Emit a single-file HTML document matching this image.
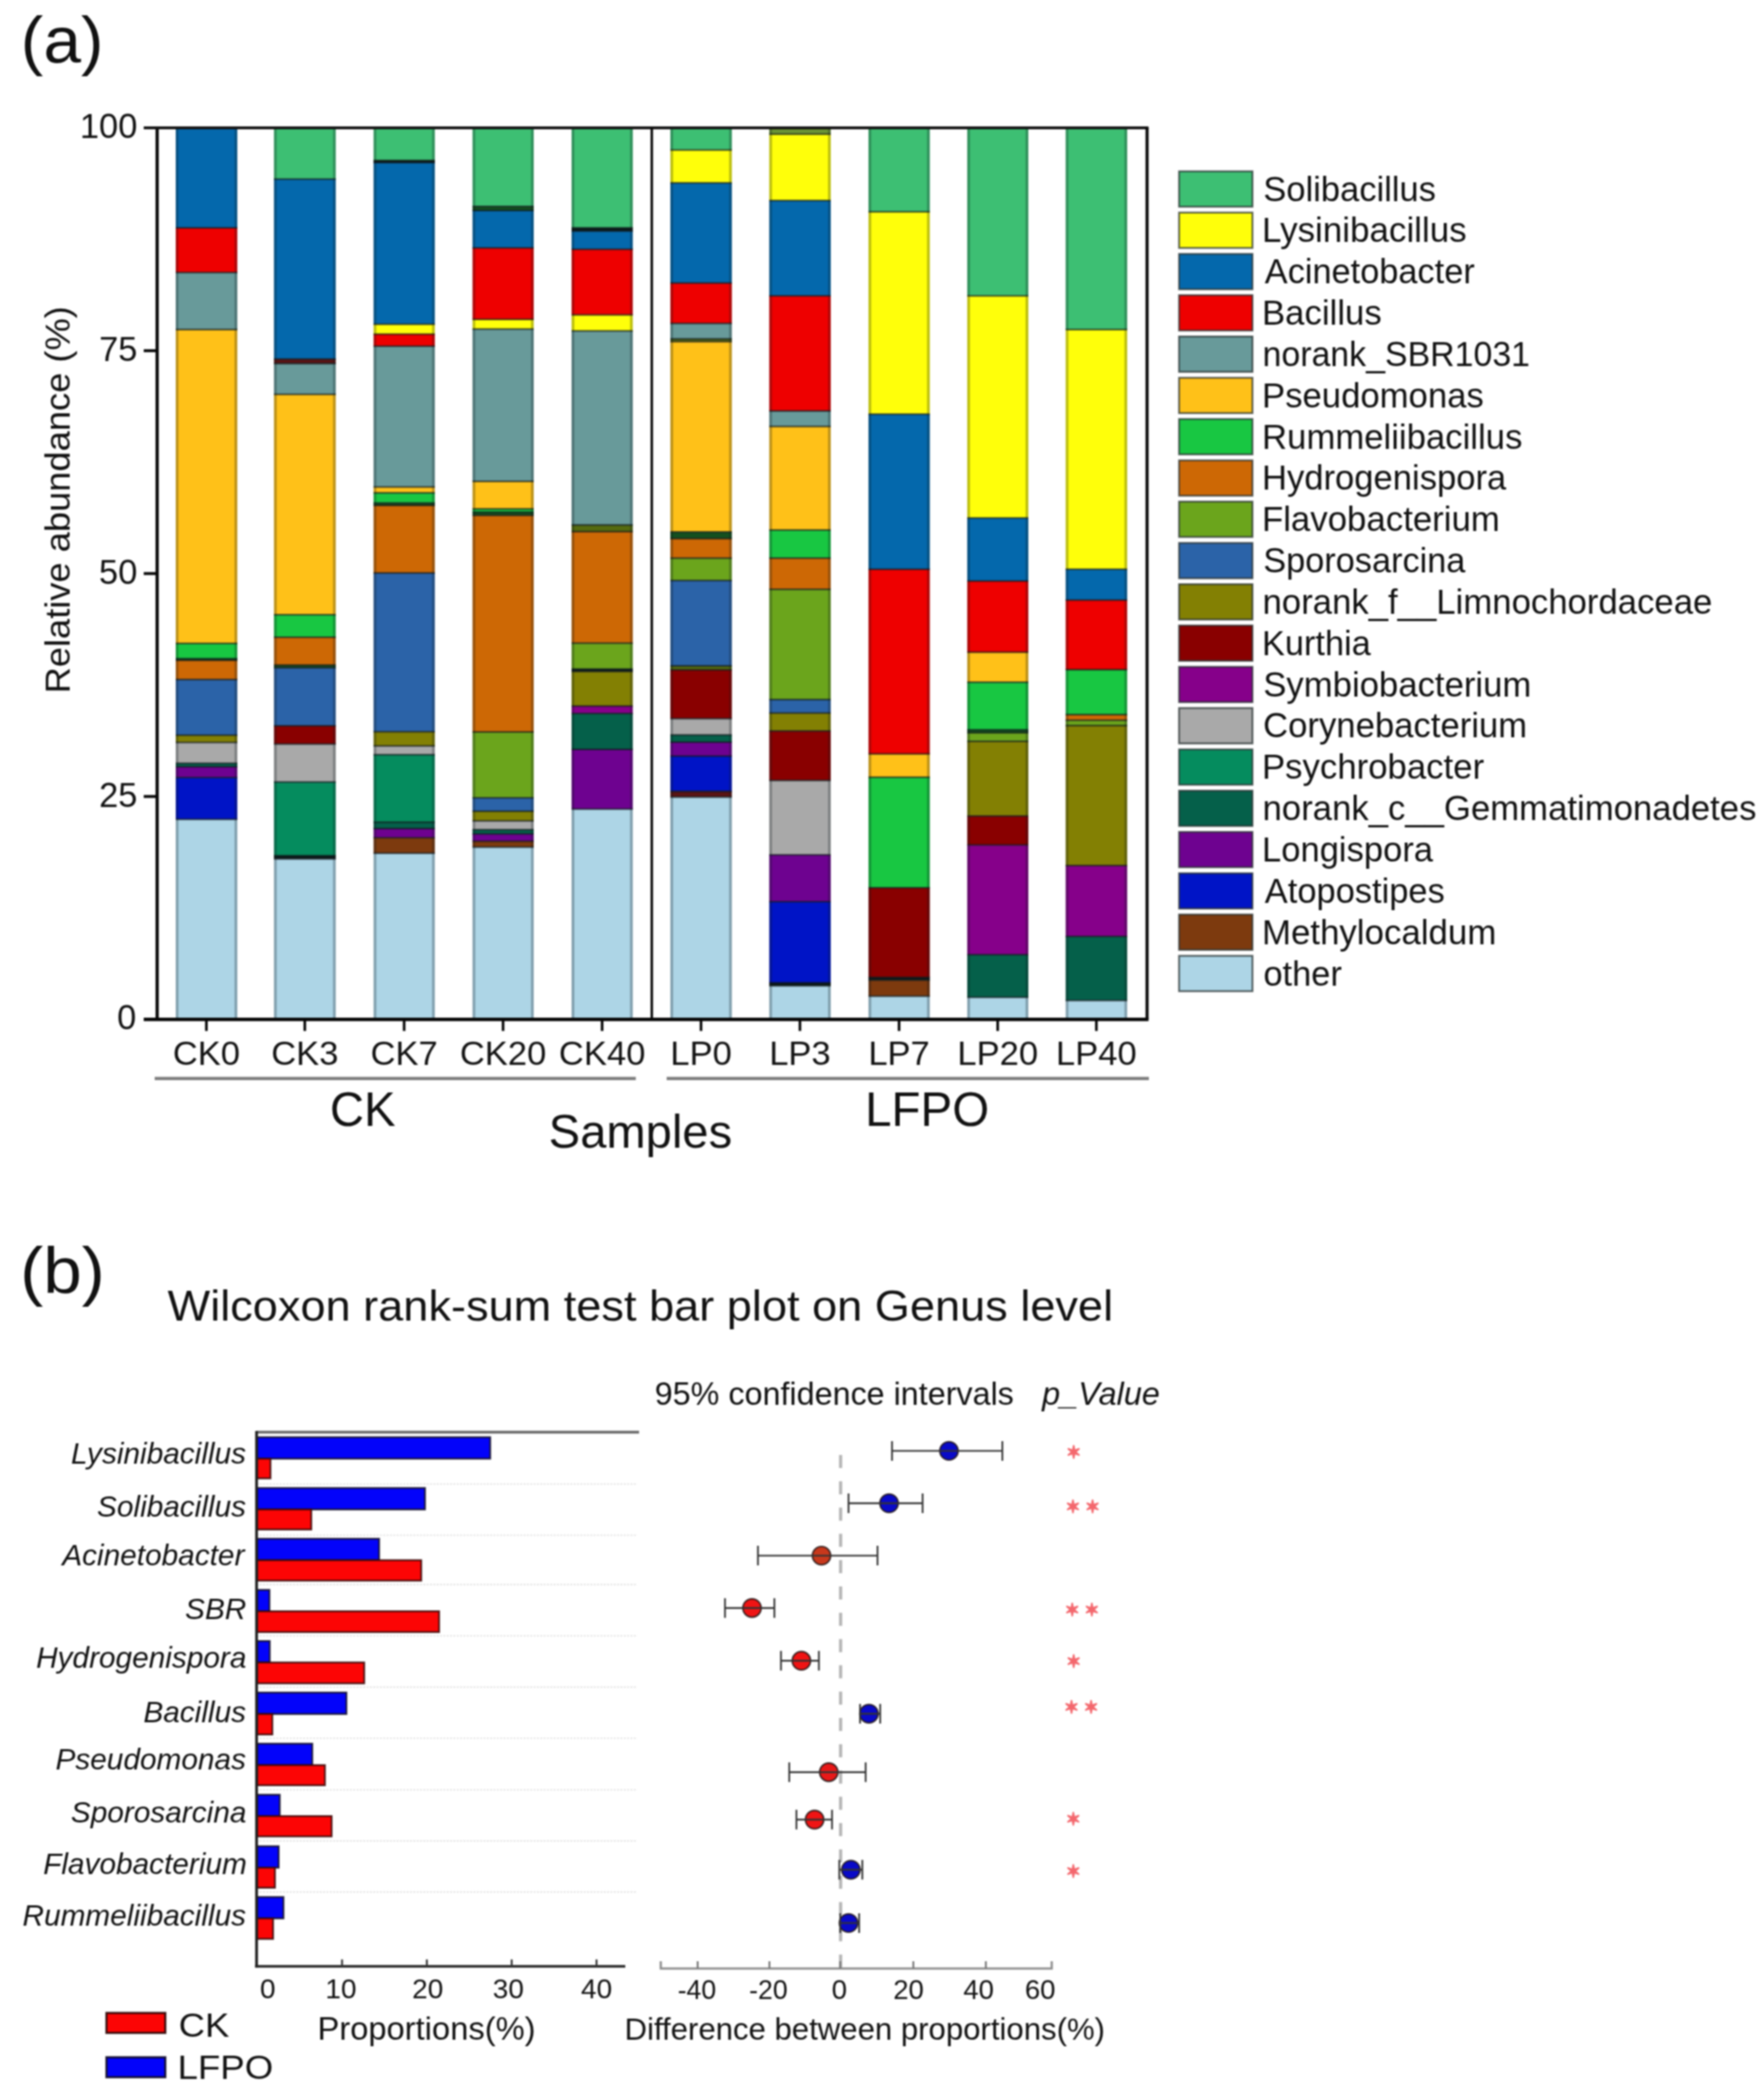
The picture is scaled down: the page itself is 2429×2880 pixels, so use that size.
<!DOCTYPE html>
<html lang="en">
<head>
<meta charset="utf-8">
<title>Figure: relative abundance and Wilcoxon rank-sum test</title>
<style>
html,body{margin:0;padding:0;background:#fff;}
body{width:2429px;height:2880px;overflow:hidden;}
svg{display:block;}
text{white-space:pre;}
</style>
</head>
<body>
<svg width="2429" height="2880" viewBox="0 0 2429 2880" font-family="'Liberation Sans', sans-serif">
<rect width="2429" height="2880" fill="#fff"/>
<defs><filter id="soft" x="0" y="0" width="100%" height="100%" filterUnits="userSpaceOnUse" color-interpolation-filters="sRGB"><feGaussianBlur stdDeviation="0.8"/></filter></defs>
<g filter="url(#soft)">
<rect width="2429" height="2880" fill="#fff"/>
<g id="panelA">
<text x="28.6" y="85.7" font-size="88.5" textLength="113.9" lengthAdjust="spacingAndGlyphs" fill="#111">(a)</text>
<g>
<rect x="242.0" y="177.0" width="84.7" height="137.0" fill="#0468ac"/>
<rect x="242.0" y="313.7" width="84.7" height="61.8" fill="#ee0000"/>
<rect x="242.0" y="375.2" width="84.7" height="78.8" fill="#689a9a"/>
<rect x="242.0" y="453.7" width="84.7" height="432.3" fill="#ffc118"/>
<rect x="242.0" y="885.8" width="84.7" height="21.3" fill="#18c742"/>
<rect x="242.0" y="906.8" width="84.7" height="2.5" fill="#14501f"/>
<rect x="242.0" y="909.0" width="84.7" height="26.8" fill="#cd6805"/>
<rect x="242.0" y="935.5" width="84.7" height="76.9" fill="#2b63a8"/>
<rect x="242.0" y="1012.1" width="84.7" height="10.2" fill="#838003"/>
<rect x="242.0" y="1022.1" width="84.7" height="29.0" fill="#a9a9a9"/>
<rect x="242.0" y="1050.8" width="84.7" height="5.1" fill="#05604a"/>
<rect x="242.0" y="1055.6" width="84.7" height="15.0" fill="#6e0290"/>
<rect x="242.0" y="1070.4" width="84.7" height="57.8" fill="#0014c6"/>
<rect x="242.0" y="1127.9" width="84.7" height="274.4" fill="#add5e6"/>
<rect x="377.3" y="177.0" width="85.0" height="69.9" fill="#3dbf73"/>
<rect x="377.3" y="246.6" width="85.0" height="247.9" fill="#0468ac"/>
<rect x="377.3" y="494.3" width="85.0" height="6.6" fill="#5a1414"/>
<rect x="377.3" y="500.5" width="85.0" height="42.7" fill="#689a9a"/>
<rect x="377.3" y="542.9" width="85.0" height="303.7" fill="#ffc118"/>
<rect x="377.3" y="846.3" width="85.0" height="31.3" fill="#18c742"/>
<rect x="377.3" y="877.3" width="85.0" height="38.6" fill="#cd6805"/>
<rect x="377.3" y="915.6" width="85.0" height="4.0" fill="#14501f"/>
<rect x="377.3" y="919.3" width="85.0" height="80.3" fill="#2b63a8"/>
<rect x="377.3" y="999.2" width="85.0" height="25.4" fill="#890000"/>
<rect x="377.3" y="1024.3" width="85.0" height="52.6" fill="#a9a9a9"/>
<rect x="377.3" y="1076.6" width="85.0" height="101.6" fill="#058c5e"/>
<rect x="377.3" y="1178.0" width="85.0" height="4.7" fill="#0a1a1a"/>
<rect x="377.3" y="1182.4" width="85.0" height="219.9" fill="#add5e6"/>
<rect x="514.5" y="177.0" width="84.2" height="44.2" fill="#3dbf73"/>
<rect x="514.5" y="220.9" width="84.2" height="3.2" fill="#0a1a1a"/>
<rect x="514.5" y="223.8" width="84.2" height="222.9" fill="#0468ac"/>
<rect x="514.5" y="446.4" width="84.2" height="13.9" fill="#ffff0a"/>
<rect x="514.5" y="460.0" width="84.2" height="16.9" fill="#ee0000"/>
<rect x="514.5" y="476.6" width="84.2" height="194.1" fill="#689a9a"/>
<rect x="514.5" y="670.4" width="84.2" height="8.4" fill="#ffc118"/>
<rect x="514.5" y="678.5" width="84.2" height="14.3" fill="#18c742"/>
<rect x="514.5" y="692.5" width="84.2" height="3.6" fill="#14501f"/>
<rect x="514.5" y="695.8" width="84.2" height="93.3" fill="#cd6805"/>
<rect x="514.5" y="788.8" width="84.2" height="218.8" fill="#2b63a8"/>
<rect x="514.5" y="1007.4" width="84.2" height="19.8" fill="#838003"/>
<rect x="514.5" y="1026.9" width="84.2" height="12.5" fill="#a9a9a9"/>
<rect x="514.5" y="1039.0" width="84.2" height="93.2" fill="#058c5e"/>
<rect x="514.5" y="1131.9" width="84.2" height="9.1" fill="#05604a"/>
<rect x="514.5" y="1140.7" width="84.2" height="12.8" fill="#6e0290"/>
<rect x="514.5" y="1153.3" width="84.2" height="21.7" fill="#7d3a0e"/>
<rect x="514.5" y="1174.6" width="84.2" height="227.7" fill="#add5e6"/>
<rect x="650.7" y="177.0" width="84.2" height="107.5" fill="#3dbf73"/>
<rect x="650.7" y="284.2" width="84.2" height="5.8" fill="#14501f"/>
<rect x="650.7" y="289.8" width="84.2" height="51.9" fill="#0468ac"/>
<rect x="650.7" y="341.3" width="84.2" height="98.7" fill="#ee0000"/>
<rect x="650.7" y="439.7" width="84.2" height="13.6" fill="#ffff0a"/>
<rect x="650.7" y="453.0" width="84.2" height="210.0" fill="#689a9a"/>
<rect x="650.7" y="662.7" width="84.2" height="38.3" fill="#ffc118"/>
<rect x="650.7" y="700.6" width="84.2" height="4.7" fill="#18c742"/>
<rect x="650.7" y="705.0" width="84.2" height="4.7" fill="#14501f"/>
<rect x="650.7" y="709.5" width="84.2" height="298.6" fill="#cd6805"/>
<rect x="650.7" y="1007.7" width="84.2" height="90.9" fill="#6ba51c"/>
<rect x="650.7" y="1098.4" width="84.2" height="18.7" fill="#2b63a8"/>
<rect x="650.7" y="1116.8" width="84.2" height="13.6" fill="#838003"/>
<rect x="650.7" y="1130.1" width="84.2" height="12.5" fill="#a9a9a9"/>
<rect x="650.7" y="1142.2" width="84.2" height="6.2" fill="#05604a"/>
<rect x="650.7" y="1148.1" width="84.2" height="10.2" fill="#6e0290"/>
<rect x="650.7" y="1158.1" width="84.2" height="8.4" fill="#7d3a0e"/>
<rect x="650.7" y="1166.2" width="84.2" height="236.1" fill="#add5e6"/>
<rect x="787.1" y="177.0" width="84.2" height="137.0" fill="#3dbf73"/>
<rect x="787.1" y="313.7" width="84.2" height="4.7" fill="#0a1a1a"/>
<rect x="787.1" y="318.1" width="84.2" height="25.4" fill="#0468ac"/>
<rect x="787.1" y="343.2" width="84.2" height="90.6" fill="#ee0000"/>
<rect x="787.1" y="433.5" width="84.2" height="22.4" fill="#ffff0a"/>
<rect x="787.1" y="455.6" width="84.2" height="267.5" fill="#689a9a"/>
<rect x="787.1" y="722.7" width="84.2" height="9.5" fill="#556b10"/>
<rect x="787.1" y="731.9" width="84.2" height="153.7" fill="#cd6805"/>
<rect x="787.1" y="885.4" width="84.2" height="36.0" fill="#6ba51c"/>
<rect x="787.1" y="921.1" width="84.2" height="3.6" fill="#0a1a1a"/>
<rect x="787.1" y="924.4" width="84.2" height="47.8" fill="#838003"/>
<rect x="787.1" y="972.0" width="84.2" height="10.6" fill="#86008a"/>
<rect x="787.1" y="982.3" width="84.2" height="49.7" fill="#05604a"/>
<rect x="787.1" y="1031.7" width="84.2" height="82.5" fill="#6e0290"/>
<rect x="787.1" y="1113.8" width="84.2" height="288.5" fill="#add5e6"/>
<rect x="923.1" y="177.0" width="84.6" height="29.8" fill="#3dbf73"/>
<rect x="923.1" y="206.5" width="84.6" height="45.6" fill="#ffff0a"/>
<rect x="923.1" y="251.8" width="84.6" height="138.1" fill="#0468ac"/>
<rect x="923.1" y="389.6" width="84.6" height="55.9" fill="#ee0000"/>
<rect x="923.1" y="445.3" width="84.6" height="21.7" fill="#689a9a"/>
<rect x="923.1" y="466.6" width="84.6" height="4.0" fill="#556b10"/>
<rect x="923.1" y="470.3" width="84.6" height="262.3" fill="#ffc118"/>
<rect x="923.1" y="732.3" width="84.6" height="9.5" fill="#14501f"/>
<rect x="923.1" y="741.5" width="84.6" height="27.2" fill="#cd6805"/>
<rect x="923.1" y="768.4" width="84.6" height="31.0" fill="#6ba51c"/>
<rect x="923.1" y="799.2" width="84.6" height="117.8" fill="#2b63a8"/>
<rect x="923.1" y="916.7" width="84.6" height="5.8" fill="#556b10"/>
<rect x="923.1" y="922.2" width="84.6" height="67.4" fill="#890000"/>
<rect x="923.1" y="989.3" width="84.6" height="22.8" fill="#a9a9a9"/>
<rect x="923.1" y="1011.8" width="84.6" height="10.2" fill="#05604a"/>
<rect x="923.1" y="1021.7" width="84.6" height="19.5" fill="#6e0290"/>
<rect x="923.1" y="1040.9" width="84.6" height="48.9" fill="#0014c6"/>
<rect x="923.1" y="1089.5" width="84.6" height="8.0" fill="#5a1414"/>
<rect x="923.1" y="1097.3" width="84.6" height="305.0" fill="#add5e6"/>
<rect x="1059.3" y="177.0" width="84.6" height="8.0" fill="#6b9436"/>
<rect x="1059.3" y="184.7" width="84.6" height="91.7" fill="#ffff0a"/>
<rect x="1059.3" y="276.1" width="84.6" height="131.5" fill="#0468ac"/>
<rect x="1059.3" y="407.3" width="84.6" height="158.7" fill="#ee0000"/>
<rect x="1059.3" y="565.8" width="84.6" height="21.7" fill="#689a9a"/>
<rect x="1059.3" y="587.1" width="84.6" height="142.9" fill="#ffc118"/>
<rect x="1059.3" y="729.7" width="84.6" height="39.0" fill="#18c742"/>
<rect x="1059.3" y="768.4" width="84.6" height="43.2" fill="#cd6805"/>
<rect x="1059.3" y="811.3" width="84.6" height="152.1" fill="#6ba51c"/>
<rect x="1059.3" y="963.1" width="84.6" height="18.7" fill="#2b63a8"/>
<rect x="1059.3" y="981.6" width="84.6" height="25.0" fill="#838003"/>
<rect x="1059.3" y="1006.3" width="84.6" height="68.5" fill="#890000"/>
<rect x="1059.3" y="1074.4" width="84.6" height="102.7" fill="#a9a9a9"/>
<rect x="1059.3" y="1176.9" width="84.6" height="64.8" fill="#6e0290"/>
<rect x="1059.3" y="1241.3" width="84.6" height="112.0" fill="#0014c6"/>
<rect x="1059.3" y="1353.0" width="84.6" height="4.4" fill="#0a1a1a"/>
<rect x="1059.3" y="1357.1" width="84.6" height="45.2" fill="#add5e6"/>
<rect x="1195.9" y="177.0" width="84.4" height="114.9" fill="#3dbf73"/>
<rect x="1195.9" y="291.6" width="84.4" height="278.9" fill="#ffff0a"/>
<rect x="1195.9" y="570.2" width="84.4" height="213.8" fill="#0468ac"/>
<rect x="1195.9" y="783.7" width="84.4" height="254.6" fill="#ee0000"/>
<rect x="1195.9" y="1037.9" width="84.4" height="32.4" fill="#ffc118"/>
<rect x="1195.9" y="1070.0" width="84.4" height="152.5" fill="#18c742"/>
<rect x="1195.9" y="1222.2" width="84.4" height="123.7" fill="#890000"/>
<rect x="1195.9" y="1345.6" width="84.4" height="4.0" fill="#0a1a1a"/>
<rect x="1195.9" y="1349.3" width="84.4" height="22.4" fill="#7d3a0e"/>
<rect x="1195.9" y="1371.4" width="84.4" height="30.9" fill="#add5e6"/>
<rect x="1331.9" y="177.0" width="84.1" height="230.6" fill="#3dbf73"/>
<rect x="1331.9" y="407.3" width="84.1" height="306.1" fill="#ffff0a"/>
<rect x="1331.9" y="713.1" width="84.1" height="87.0" fill="#0468ac"/>
<rect x="1331.9" y="799.9" width="84.1" height="98.3" fill="#ee0000"/>
<rect x="1331.9" y="897.9" width="84.1" height="41.6" fill="#ffc118"/>
<rect x="1331.9" y="939.2" width="84.1" height="65.9" fill="#18c742"/>
<rect x="1331.9" y="1004.8" width="84.1" height="4.4" fill="#14501f"/>
<rect x="1331.9" y="1008.8" width="84.1" height="12.1" fill="#6ba51c"/>
<rect x="1331.9" y="1020.6" width="84.1" height="103.1" fill="#838003"/>
<rect x="1331.9" y="1123.4" width="84.1" height="40.1" fill="#890000"/>
<rect x="1331.9" y="1163.2" width="84.1" height="151.4" fill="#86008a"/>
<rect x="1331.9" y="1314.3" width="84.1" height="58.9" fill="#05604a"/>
<rect x="1331.9" y="1372.9" width="84.1" height="29.4" fill="#add5e6"/>
<rect x="1467.5" y="177.0" width="84.6" height="277.0" fill="#3dbf73"/>
<rect x="1467.5" y="453.7" width="84.6" height="330.2" fill="#ffff0a"/>
<rect x="1467.5" y="783.7" width="84.6" height="42.7" fill="#0468ac"/>
<rect x="1467.5" y="826.1" width="84.6" height="96.1" fill="#ee0000"/>
<rect x="1467.5" y="921.9" width="84.6" height="62.2" fill="#18c742"/>
<rect x="1467.5" y="983.8" width="84.6" height="8.0" fill="#cd6805"/>
<rect x="1467.5" y="991.5" width="84.6" height="7.7" fill="#6ba51c"/>
<rect x="1467.5" y="998.9" width="84.6" height="193.0" fill="#838003"/>
<rect x="1467.5" y="1191.6" width="84.6" height="97.9" fill="#86008a"/>
<rect x="1467.5" y="1289.2" width="84.6" height="88.4" fill="#05604a"/>
<rect x="1467.5" y="1377.3" width="84.6" height="25.0" fill="#add5e6"/>
</g>
<g fill="#10181c">
<rect x="242.0" y="177.0" width="3.8" height="1225.0" fill-opacity="0.28"/>
<rect x="322.9" y="177.0" width="3.8" height="1225.0" fill-opacity="0.28"/>
<rect x="242.0" y="312.4" width="84.7" height="2.6" fill-opacity="0.62"/>
<rect x="242.0" y="373.9" width="84.7" height="2.6" fill-opacity="0.62"/>
<rect x="242.0" y="452.4" width="84.7" height="2.6" fill-opacity="0.62"/>
<rect x="242.0" y="884.5" width="84.7" height="2.6" fill-opacity="0.62"/>
<rect x="242.0" y="905.5" width="84.7" height="2.6" fill-opacity="0.62"/>
<rect x="242.0" y="907.7" width="84.7" height="2.6" fill-opacity="0.62"/>
<rect x="242.0" y="934.2" width="84.7" height="2.6" fill-opacity="0.62"/>
<rect x="242.0" y="1010.8" width="84.7" height="2.6" fill-opacity="0.62"/>
<rect x="242.0" y="1020.8" width="84.7" height="2.6" fill-opacity="0.62"/>
<rect x="242.0" y="1049.5" width="84.7" height="2.6" fill-opacity="0.62"/>
<rect x="242.0" y="1054.3" width="84.7" height="2.6" fill-opacity="0.62"/>
<rect x="242.0" y="1069.1" width="84.7" height="2.6" fill-opacity="0.62"/>
<rect x="242.0" y="1126.6" width="84.7" height="2.6" fill-opacity="0.62"/>
<rect x="377.3" y="177.0" width="3.8" height="1225.0" fill-opacity="0.28"/>
<rect x="458.5" y="177.0" width="3.8" height="1225.0" fill-opacity="0.28"/>
<rect x="377.3" y="245.3" width="85.0" height="2.6" fill-opacity="0.62"/>
<rect x="377.3" y="493.0" width="85.0" height="2.6" fill-opacity="0.62"/>
<rect x="377.3" y="499.2" width="85.0" height="2.6" fill-opacity="0.62"/>
<rect x="377.3" y="541.6" width="85.0" height="2.6" fill-opacity="0.62"/>
<rect x="377.3" y="845.0" width="85.0" height="2.6" fill-opacity="0.62"/>
<rect x="377.3" y="876.0" width="85.0" height="2.6" fill-opacity="0.62"/>
<rect x="377.3" y="914.3" width="85.0" height="2.6" fill-opacity="0.62"/>
<rect x="377.3" y="918.0" width="85.0" height="2.6" fill-opacity="0.62"/>
<rect x="377.3" y="997.9" width="85.0" height="2.6" fill-opacity="0.62"/>
<rect x="377.3" y="1023.0" width="85.0" height="2.6" fill-opacity="0.62"/>
<rect x="377.3" y="1075.3" width="85.0" height="2.6" fill-opacity="0.62"/>
<rect x="377.3" y="1176.7" width="85.0" height="2.6" fill-opacity="0.62"/>
<rect x="377.3" y="1181.1" width="85.0" height="2.6" fill-opacity="0.62"/>
<rect x="514.5" y="177.0" width="3.8" height="1225.0" fill-opacity="0.28"/>
<rect x="594.9" y="177.0" width="3.8" height="1225.0" fill-opacity="0.28"/>
<rect x="514.5" y="219.6" width="84.2" height="2.6" fill-opacity="0.62"/>
<rect x="514.5" y="222.5" width="84.2" height="2.6" fill-opacity="0.62"/>
<rect x="514.5" y="445.1" width="84.2" height="2.6" fill-opacity="0.62"/>
<rect x="514.5" y="458.7" width="84.2" height="2.6" fill-opacity="0.62"/>
<rect x="514.5" y="475.3" width="84.2" height="2.6" fill-opacity="0.62"/>
<rect x="514.5" y="669.1" width="84.2" height="2.6" fill-opacity="0.62"/>
<rect x="514.5" y="677.2" width="84.2" height="2.6" fill-opacity="0.62"/>
<rect x="514.5" y="691.2" width="84.2" height="2.6" fill-opacity="0.62"/>
<rect x="514.5" y="694.5" width="84.2" height="2.6" fill-opacity="0.62"/>
<rect x="514.5" y="787.5" width="84.2" height="2.6" fill-opacity="0.62"/>
<rect x="514.5" y="1006.1" width="84.2" height="2.6" fill-opacity="0.62"/>
<rect x="514.5" y="1025.6" width="84.2" height="2.6" fill-opacity="0.62"/>
<rect x="514.5" y="1037.7" width="84.2" height="2.6" fill-opacity="0.62"/>
<rect x="514.5" y="1130.6" width="84.2" height="2.6" fill-opacity="0.62"/>
<rect x="514.5" y="1139.4" width="84.2" height="2.6" fill-opacity="0.62"/>
<rect x="514.5" y="1152.0" width="84.2" height="2.6" fill-opacity="0.62"/>
<rect x="514.5" y="1173.3" width="84.2" height="2.6" fill-opacity="0.62"/>
<rect x="650.7" y="177.0" width="3.8" height="1225.0" fill-opacity="0.28"/>
<rect x="731.1" y="177.0" width="3.8" height="1225.0" fill-opacity="0.28"/>
<rect x="650.7" y="282.9" width="84.2" height="2.6" fill-opacity="0.62"/>
<rect x="650.7" y="288.5" width="84.2" height="2.6" fill-opacity="0.62"/>
<rect x="650.7" y="340.0" width="84.2" height="2.6" fill-opacity="0.62"/>
<rect x="650.7" y="438.4" width="84.2" height="2.6" fill-opacity="0.62"/>
<rect x="650.7" y="451.7" width="84.2" height="2.6" fill-opacity="0.62"/>
<rect x="650.7" y="661.4" width="84.2" height="2.6" fill-opacity="0.62"/>
<rect x="650.7" y="699.3" width="84.2" height="2.6" fill-opacity="0.62"/>
<rect x="650.7" y="703.7" width="84.2" height="2.6" fill-opacity="0.62"/>
<rect x="650.7" y="708.2" width="84.2" height="2.6" fill-opacity="0.62"/>
<rect x="650.7" y="1006.4" width="84.2" height="2.6" fill-opacity="0.62"/>
<rect x="650.7" y="1097.1" width="84.2" height="2.6" fill-opacity="0.62"/>
<rect x="650.7" y="1115.5" width="84.2" height="2.6" fill-opacity="0.62"/>
<rect x="650.7" y="1128.8" width="84.2" height="2.6" fill-opacity="0.62"/>
<rect x="650.7" y="1140.9" width="84.2" height="2.6" fill-opacity="0.62"/>
<rect x="650.7" y="1146.8" width="84.2" height="2.6" fill-opacity="0.62"/>
<rect x="650.7" y="1156.8" width="84.2" height="2.6" fill-opacity="0.62"/>
<rect x="650.7" y="1164.9" width="84.2" height="2.6" fill-opacity="0.62"/>
<rect x="787.1" y="177.0" width="3.8" height="1225.0" fill-opacity="0.28"/>
<rect x="867.5" y="177.0" width="3.8" height="1225.0" fill-opacity="0.28"/>
<rect x="787.1" y="312.4" width="84.2" height="2.6" fill-opacity="0.62"/>
<rect x="787.1" y="316.8" width="84.2" height="2.6" fill-opacity="0.62"/>
<rect x="787.1" y="341.9" width="84.2" height="2.6" fill-opacity="0.62"/>
<rect x="787.1" y="432.2" width="84.2" height="2.6" fill-opacity="0.62"/>
<rect x="787.1" y="454.3" width="84.2" height="2.6" fill-opacity="0.62"/>
<rect x="787.1" y="721.4" width="84.2" height="2.6" fill-opacity="0.62"/>
<rect x="787.1" y="730.6" width="84.2" height="2.6" fill-opacity="0.62"/>
<rect x="787.1" y="884.1" width="84.2" height="2.6" fill-opacity="0.62"/>
<rect x="787.1" y="919.8" width="84.2" height="2.6" fill-opacity="0.62"/>
<rect x="787.1" y="923.1" width="84.2" height="2.6" fill-opacity="0.62"/>
<rect x="787.1" y="970.7" width="84.2" height="2.6" fill-opacity="0.62"/>
<rect x="787.1" y="981.0" width="84.2" height="2.6" fill-opacity="0.62"/>
<rect x="787.1" y="1030.4" width="84.2" height="2.6" fill-opacity="0.62"/>
<rect x="787.1" y="1112.5" width="84.2" height="2.6" fill-opacity="0.62"/>
<rect x="923.1" y="177.0" width="3.8" height="1225.0" fill-opacity="0.28"/>
<rect x="1003.9" y="177.0" width="3.8" height="1225.0" fill-opacity="0.28"/>
<rect x="923.1" y="205.2" width="84.6" height="2.6" fill-opacity="0.62"/>
<rect x="923.1" y="250.5" width="84.6" height="2.6" fill-opacity="0.62"/>
<rect x="923.1" y="388.3" width="84.6" height="2.6" fill-opacity="0.62"/>
<rect x="923.1" y="444.0" width="84.6" height="2.6" fill-opacity="0.62"/>
<rect x="923.1" y="465.3" width="84.6" height="2.6" fill-opacity="0.62"/>
<rect x="923.1" y="469.0" width="84.6" height="2.6" fill-opacity="0.62"/>
<rect x="923.1" y="731.0" width="84.6" height="2.6" fill-opacity="0.62"/>
<rect x="923.1" y="740.2" width="84.6" height="2.6" fill-opacity="0.62"/>
<rect x="923.1" y="767.1" width="84.6" height="2.6" fill-opacity="0.62"/>
<rect x="923.1" y="797.9" width="84.6" height="2.6" fill-opacity="0.62"/>
<rect x="923.1" y="915.4" width="84.6" height="2.6" fill-opacity="0.62"/>
<rect x="923.1" y="920.9" width="84.6" height="2.6" fill-opacity="0.62"/>
<rect x="923.1" y="988.0" width="84.6" height="2.6" fill-opacity="0.62"/>
<rect x="923.1" y="1010.5" width="84.6" height="2.6" fill-opacity="0.62"/>
<rect x="923.1" y="1020.4" width="84.6" height="2.6" fill-opacity="0.62"/>
<rect x="923.1" y="1039.6" width="84.6" height="2.6" fill-opacity="0.62"/>
<rect x="923.1" y="1088.2" width="84.6" height="2.6" fill-opacity="0.62"/>
<rect x="923.1" y="1096.0" width="84.6" height="2.6" fill-opacity="0.62"/>
<rect x="1059.3" y="177.0" width="3.8" height="1225.0" fill-opacity="0.28"/>
<rect x="1140.1" y="177.0" width="3.8" height="1225.0" fill-opacity="0.28"/>
<rect x="1059.3" y="183.4" width="84.6" height="2.6" fill-opacity="0.62"/>
<rect x="1059.3" y="274.8" width="84.6" height="2.6" fill-opacity="0.62"/>
<rect x="1059.3" y="406.0" width="84.6" height="2.6" fill-opacity="0.62"/>
<rect x="1059.3" y="564.5" width="84.6" height="2.6" fill-opacity="0.62"/>
<rect x="1059.3" y="585.8" width="84.6" height="2.6" fill-opacity="0.62"/>
<rect x="1059.3" y="728.4" width="84.6" height="2.6" fill-opacity="0.62"/>
<rect x="1059.3" y="767.1" width="84.6" height="2.6" fill-opacity="0.62"/>
<rect x="1059.3" y="810.0" width="84.6" height="2.6" fill-opacity="0.62"/>
<rect x="1059.3" y="961.8" width="84.6" height="2.6" fill-opacity="0.62"/>
<rect x="1059.3" y="980.3" width="84.6" height="2.6" fill-opacity="0.62"/>
<rect x="1059.3" y="1005.0" width="84.6" height="2.6" fill-opacity="0.62"/>
<rect x="1059.3" y="1073.1" width="84.6" height="2.6" fill-opacity="0.62"/>
<rect x="1059.3" y="1175.6" width="84.6" height="2.6" fill-opacity="0.62"/>
<rect x="1059.3" y="1240.0" width="84.6" height="2.6" fill-opacity="0.62"/>
<rect x="1059.3" y="1351.7" width="84.6" height="2.6" fill-opacity="0.62"/>
<rect x="1059.3" y="1355.8" width="84.6" height="2.6" fill-opacity="0.62"/>
<rect x="1195.9" y="177.0" width="3.8" height="1225.0" fill-opacity="0.28"/>
<rect x="1276.5" y="177.0" width="3.8" height="1225.0" fill-opacity="0.28"/>
<rect x="1195.9" y="290.3" width="84.4" height="2.6" fill-opacity="0.62"/>
<rect x="1195.9" y="568.9" width="84.4" height="2.6" fill-opacity="0.62"/>
<rect x="1195.9" y="782.4" width="84.4" height="2.6" fill-opacity="0.62"/>
<rect x="1195.9" y="1036.6" width="84.4" height="2.6" fill-opacity="0.62"/>
<rect x="1195.9" y="1068.7" width="84.4" height="2.6" fill-opacity="0.62"/>
<rect x="1195.9" y="1220.9" width="84.4" height="2.6" fill-opacity="0.62"/>
<rect x="1195.9" y="1344.3" width="84.4" height="2.6" fill-opacity="0.62"/>
<rect x="1195.9" y="1348.0" width="84.4" height="2.6" fill-opacity="0.62"/>
<rect x="1195.9" y="1370.1" width="84.4" height="2.6" fill-opacity="0.62"/>
<rect x="1331.9" y="177.0" width="3.8" height="1225.0" fill-opacity="0.28"/>
<rect x="1412.2" y="177.0" width="3.8" height="1225.0" fill-opacity="0.28"/>
<rect x="1331.9" y="406.0" width="84.1" height="2.6" fill-opacity="0.62"/>
<rect x="1331.9" y="711.8" width="84.1" height="2.6" fill-opacity="0.62"/>
<rect x="1331.9" y="798.6" width="84.1" height="2.6" fill-opacity="0.62"/>
<rect x="1331.9" y="896.6" width="84.1" height="2.6" fill-opacity="0.62"/>
<rect x="1331.9" y="937.9" width="84.1" height="2.6" fill-opacity="0.62"/>
<rect x="1331.9" y="1003.5" width="84.1" height="2.6" fill-opacity="0.62"/>
<rect x="1331.9" y="1007.5" width="84.1" height="2.6" fill-opacity="0.62"/>
<rect x="1331.9" y="1019.3" width="84.1" height="2.6" fill-opacity="0.62"/>
<rect x="1331.9" y="1122.1" width="84.1" height="2.6" fill-opacity="0.62"/>
<rect x="1331.9" y="1161.9" width="84.1" height="2.6" fill-opacity="0.62"/>
<rect x="1331.9" y="1313.0" width="84.1" height="2.6" fill-opacity="0.62"/>
<rect x="1331.9" y="1371.6" width="84.1" height="2.6" fill-opacity="0.62"/>
<rect x="1467.5" y="177.0" width="3.8" height="1225.0" fill-opacity="0.28"/>
<rect x="1548.3" y="177.0" width="3.8" height="1225.0" fill-opacity="0.28"/>
<rect x="1467.5" y="452.4" width="84.6" height="2.6" fill-opacity="0.62"/>
<rect x="1467.5" y="782.4" width="84.6" height="2.6" fill-opacity="0.62"/>
<rect x="1467.5" y="824.8" width="84.6" height="2.6" fill-opacity="0.62"/>
<rect x="1467.5" y="920.6" width="84.6" height="2.6" fill-opacity="0.62"/>
<rect x="1467.5" y="982.5" width="84.6" height="2.6" fill-opacity="0.62"/>
<rect x="1467.5" y="990.2" width="84.6" height="2.6" fill-opacity="0.62"/>
<rect x="1467.5" y="997.6" width="84.6" height="2.6" fill-opacity="0.62"/>
<rect x="1467.5" y="1190.3" width="84.6" height="2.6" fill-opacity="0.62"/>
<rect x="1467.5" y="1287.9" width="84.6" height="2.6" fill-opacity="0.62"/>
<rect x="1467.5" y="1376.0" width="84.6" height="2.6" fill-opacity="0.62"/>
</g>
<g stroke="#060606" fill="none">
<path d="M216.4 1403.3 V175.9" stroke-width="4.4"/>
<path d="M197.9 175.9 H1581.5" stroke-width="4" stroke="#141414"/>
<path d="M1579.5 175.9 V1403.3" stroke-width="4.2"/>
<path d="M197.9 1403.3 H1581.5" stroke-width="4.8"/>
<path d="M897.5 175.9 V1403.3" stroke-width="3.4"/>
<path d="M197.9 482.8 H216.4" stroke-width="4"/>
<path d="M197.9 789.6 H216.4" stroke-width="4"/>
<path d="M197.9 1096.5 H216.4" stroke-width="4"/>
<path d="M284.2 1403.3 V1419.3" stroke-width="3.6"/>
<path d="M419.7 1403.3 V1419.3" stroke-width="3.6"/>
<path d="M556.5 1403.3 V1419.3" stroke-width="3.6"/>
<path d="M692.7 1403.3 V1419.3" stroke-width="3.6"/>
<path d="M829.1 1403.3 V1419.3" stroke-width="3.6"/>
<path d="M965.3 1403.3 V1419.3" stroke-width="3.6"/>
<path d="M1101.5 1403.3 V1419.3" stroke-width="3.6"/>
<path d="M1238.0 1403.3 V1419.3" stroke-width="3.6"/>
<path d="M1373.8 1403.3 V1419.3" stroke-width="3.6"/>
<path d="M1509.7 1403.3 V1419.3" stroke-width="3.6"/>
</g>
<text x="109.9" y="189.9" font-size="47.5" textLength="79.3" lengthAdjust="spacingAndGlyphs" fill="#111">100</text>
<text x="136.4" y="496.8" font-size="47.5" textLength="52.8" lengthAdjust="spacingAndGlyphs" fill="#111">75</text>
<text x="136.3" y="803.6" font-size="47.5" textLength="52.8" lengthAdjust="spacingAndGlyphs" fill="#111">50</text>
<text x="136.4" y="1110.5" font-size="47.5" textLength="52.8" lengthAdjust="spacingAndGlyphs" fill="#111">25</text>
<text x="161.3" y="1417.3" font-size="47.5" textLength="26.4" lengthAdjust="spacingAndGlyphs" fill="#111">0</text>
<g transform="translate(96.3,687.5) rotate(-90)">
<text x="-267.1" y="0.0" font-size="49" textLength="533.1" lengthAdjust="spacingAndGlyphs" fill="#111">Relative abundance (%)</text>
</g>
<text x="284.2" y="1466.0" font-size="46" text-anchor="middle" textLength="92.6" lengthAdjust="spacingAndGlyphs" fill="#111">CK0</text>
<text x="419.7" y="1466.0" font-size="46" text-anchor="middle" textLength="92.6" lengthAdjust="spacingAndGlyphs" fill="#111">CK3</text>
<text x="556.5" y="1466.0" font-size="46" text-anchor="middle" textLength="92.6" lengthAdjust="spacingAndGlyphs" fill="#111">CK7</text>
<text x="692.7" y="1466.0" font-size="46" text-anchor="middle" textLength="119.1" lengthAdjust="spacingAndGlyphs" fill="#111">CK20</text>
<text x="829.1" y="1466.0" font-size="46" text-anchor="middle" textLength="119.1" lengthAdjust="spacingAndGlyphs" fill="#111">CK40</text>
<text x="965.3" y="1466.0" font-size="46" text-anchor="middle" textLength="84.7" lengthAdjust="spacingAndGlyphs" fill="#111">LP0</text>
<text x="1101.5" y="1466.0" font-size="46" text-anchor="middle" textLength="84.7" lengthAdjust="spacingAndGlyphs" fill="#111">LP3</text>
<text x="1238.0" y="1466.0" font-size="46" text-anchor="middle" textLength="84.7" lengthAdjust="spacingAndGlyphs" fill="#111">LP7</text>
<text x="1373.8" y="1466.0" font-size="46" text-anchor="middle" textLength="111.2" lengthAdjust="spacingAndGlyphs" fill="#111">LP20</text>
<text x="1509.7" y="1466.0" font-size="46" text-anchor="middle" textLength="111.2" lengthAdjust="spacingAndGlyphs" fill="#111">LP40</text>
<path d="M213 1484.7 H875.5 M918 1484.7 H1582" stroke="#7d7d7d" stroke-width="4.4" fill="none"/>
<text x="454.2" y="1550.3" font-size="66" textLength="90.4" lengthAdjust="spacingAndGlyphs" fill="#111">CK</text>
<text x="1191.2" y="1550.3" font-size="66" textLength="170.9" lengthAdjust="spacingAndGlyphs" fill="#111">LFPO</text>
<text x="755.6" y="1580.3" font-size="65" textLength="252.5" lengthAdjust="spacingAndGlyphs" fill="#111">Samples</text>
<rect x="1623.6" y="235.9" width="101" height="48.6" fill="#3dbf73" stroke="#222c2c" stroke-opacity="0.72" stroke-width="2.6"/>
<text x="1739.5" y="276.5" font-size="47.2" textLength="237.8" lengthAdjust="spacingAndGlyphs" fill="#111">Solibacillus</text>
<rect x="1623.6" y="292.7" width="101" height="48.6" fill="#ffff0a" stroke="#222c2c" stroke-opacity="0.72" stroke-width="2.6"/>
<text x="1737.7" y="333.3" font-size="47.2" textLength="281.9" lengthAdjust="spacingAndGlyphs" fill="#111">Lysinibacillus</text>
<rect x="1623.6" y="349.6" width="101" height="48.6" fill="#0468ac" stroke="#222c2c" stroke-opacity="0.72" stroke-width="2.6"/>
<text x="1741.6" y="390.2" font-size="47.2" textLength="289.1" lengthAdjust="spacingAndGlyphs" fill="#111">Acinetobacter</text>
<rect x="1623.6" y="406.4" width="101" height="48.6" fill="#ee0000" stroke="#222c2c" stroke-opacity="0.72" stroke-width="2.6"/>
<text x="1737.7" y="447.0" font-size="47.2" textLength="165.0" lengthAdjust="spacingAndGlyphs" fill="#111">Bacillus</text>
<rect x="1623.6" y="463.3" width="101" height="48.6" fill="#689a9a" stroke="#222c2c" stroke-opacity="0.72" stroke-width="2.6"/>
<text x="1738.5" y="503.9" font-size="47.2" textLength="368.3" lengthAdjust="spacingAndGlyphs" fill="#111">norank_SBR1031</text>
<rect x="1623.6" y="520.1" width="101" height="48.6" fill="#ffc118" stroke="#222c2c" stroke-opacity="0.72" stroke-width="2.6"/>
<text x="1737.8" y="560.7" font-size="47.2" textLength="305.4" lengthAdjust="spacingAndGlyphs" fill="#111">Pseudomonas</text>
<rect x="1623.6" y="576.9" width="101" height="48.6" fill="#18c742" stroke="#222c2c" stroke-opacity="0.72" stroke-width="2.6"/>
<text x="1737.8" y="617.5" font-size="47.2" textLength="358.5" lengthAdjust="spacingAndGlyphs" fill="#111">Rummeliibacillus</text>
<rect x="1623.6" y="633.8" width="101" height="48.6" fill="#cd6805" stroke="#222c2c" stroke-opacity="0.72" stroke-width="2.6"/>
<text x="1737.8" y="674.4" font-size="47.2" textLength="336.3" lengthAdjust="spacingAndGlyphs" fill="#111">Hydrogenispora</text>
<rect x="1623.6" y="690.6" width="101" height="48.6" fill="#6ba51c" stroke="#222c2c" stroke-opacity="0.72" stroke-width="2.6"/>
<text x="1737.7" y="731.2" font-size="47.2" textLength="327.6" lengthAdjust="spacingAndGlyphs" fill="#111">Flavobacterium</text>
<rect x="1623.6" y="747.5" width="101" height="48.6" fill="#2b63a8" stroke="#222c2c" stroke-opacity="0.72" stroke-width="2.6"/>
<text x="1739.5" y="788.1" font-size="47.2" textLength="278.3" lengthAdjust="spacingAndGlyphs" fill="#111">Sporosarcina</text>
<rect x="1623.6" y="804.3" width="101" height="48.6" fill="#838003" stroke="#222c2c" stroke-opacity="0.72" stroke-width="2.6"/>
<text x="1738.5" y="844.9" font-size="47.2" textLength="619.4" lengthAdjust="spacingAndGlyphs" fill="#111">norank_f__Limnochordaceae</text>
<rect x="1623.6" y="861.1" width="101" height="48.6" fill="#890000" stroke="#222c2c" stroke-opacity="0.72" stroke-width="2.6"/>
<text x="1737.8" y="901.7" font-size="47.2" textLength="149.7" lengthAdjust="spacingAndGlyphs" fill="#111">Kurthia</text>
<rect x="1623.6" y="918.0" width="101" height="48.6" fill="#86008a" stroke="#222c2c" stroke-opacity="0.72" stroke-width="2.6"/>
<text x="1739.5" y="958.6" font-size="47.2" textLength="369.1" lengthAdjust="spacingAndGlyphs" fill="#111">Symbiobacterium</text>
<rect x="1623.6" y="974.8" width="101" height="48.6" fill="#a9a9a9" stroke="#222c2c" stroke-opacity="0.72" stroke-width="2.6"/>
<text x="1739.3" y="1015.4" font-size="47.2" textLength="363.6" lengthAdjust="spacingAndGlyphs" fill="#111">Corynebacterium</text>
<rect x="1623.6" y="1031.7" width="101" height="48.6" fill="#058c5e" stroke="#222c2c" stroke-opacity="0.72" stroke-width="2.6"/>
<text x="1737.7" y="1072.3" font-size="47.2" textLength="305.9" lengthAdjust="spacingAndGlyphs" fill="#111">Psychrobacter</text>
<rect x="1623.6" y="1088.5" width="101" height="48.6" fill="#05604a" stroke="#222c2c" stroke-opacity="0.72" stroke-width="2.6"/>
<text x="1738.5" y="1129.1" font-size="47.2" textLength="680.1" lengthAdjust="spacingAndGlyphs" fill="#111">norank_c__Gemmatimonadetes</text>
<rect x="1623.6" y="1145.3" width="101" height="48.6" fill="#6e0290" stroke="#222c2c" stroke-opacity="0.72" stroke-width="2.6"/>
<text x="1737.8" y="1185.9" font-size="47.2" textLength="235.4" lengthAdjust="spacingAndGlyphs" fill="#111">Longispora</text>
<rect x="1623.6" y="1202.2" width="101" height="48.6" fill="#0014c6" stroke="#222c2c" stroke-opacity="0.72" stroke-width="2.6"/>
<text x="1741.6" y="1242.8" font-size="47.2" textLength="247.8" lengthAdjust="spacingAndGlyphs" fill="#111">Atopostipes</text>
<rect x="1623.6" y="1259.0" width="101" height="48.6" fill="#7d3a0e" stroke="#222c2c" stroke-opacity="0.72" stroke-width="2.6"/>
<text x="1737.7" y="1299.6" font-size="47.2" textLength="322.7" lengthAdjust="spacingAndGlyphs" fill="#111">Methylocaldum</text>
<rect x="1623.6" y="1315.9" width="101" height="48.6" fill="#add5e6" stroke="#222c2c" stroke-opacity="0.72" stroke-width="2.6"/>
<text x="1739.7" y="1356.5" font-size="47.2" textLength="108.1" lengthAdjust="spacingAndGlyphs" fill="#111">other</text>
</g>
<g id="panelB">
<text x="27.7" y="1779.5" font-size="88.5" textLength="116.7" lengthAdjust="spacingAndGlyphs" fill="#111">(b)</text>
<text x="230.8" y="1818.4" font-size="59.8" textLength="1301.9" lengthAdjust="spacingAndGlyphs" fill="#111">Wilcoxon rank-sum test bar plot on Genus level</text>
<g stroke="#dcdcdc" stroke-width="1.7" stroke-dasharray="2.6 2" fill="none">
<path d="M353.0 2043 H877.5"/>
<path d="M353.0 2113.5 H877.5"/>
<path d="M353.0 2181.3 H877.5"/>
<path d="M353.0 2252 H877.5"/>
<path d="M353.0 2322.7 H877.5"/>
<path d="M353.0 2393 H877.5"/>
<path d="M353.0 2464 H877.5"/>
<path d="M353.0 2534.4 H877.5"/>
<path d="M353.0 2604.6 H877.5"/>
</g>
<g stroke="#14102a" stroke-opacity="0.88" stroke-width="2.5">
<rect x="354.0" y="1978.6" width="321.0" height="29.5" fill="#0303fa"/>
<rect x="354.0" y="2008.1" width="18.4" height="27.1" fill="#fc0505" stroke="#3a0808"/>
<rect x="354.0" y="2048.5" width="231.2" height="29.5" fill="#0303fa"/>
<rect x="354.0" y="2078.0" width="74.6" height="27.6" fill="#fc0505" stroke="#3a0808"/>
<rect x="354.0" y="2118.4" width="168.0" height="29.5" fill="#0303fa"/>
<rect x="354.0" y="2147.9" width="226.0" height="28.1" fill="#fc0505" stroke="#3a0808"/>
<rect x="354.0" y="2188.8" width="17.0" height="29.4" fill="#0303fa"/>
<rect x="354.0" y="2218.2" width="250.6" height="28.6" fill="#fc0505" stroke="#3a0808"/>
<rect x="354.0" y="2259.2" width="17.4" height="29.5" fill="#0303fa"/>
<rect x="354.0" y="2288.7" width="147.5" height="28.7" fill="#fc0505" stroke="#3a0808"/>
<rect x="354.0" y="2330.1" width="123.0" height="29.5" fill="#0303fa"/>
<rect x="354.0" y="2359.6" width="21.0" height="28.2" fill="#fc0505" stroke="#3a0808"/>
<rect x="354.0" y="2400.5" width="76.0" height="29.5" fill="#0303fa"/>
<rect x="354.0" y="2430.0" width="93.4" height="27.7" fill="#fc0505" stroke="#3a0808"/>
<rect x="354.0" y="2470.8" width="31.2" height="29.4" fill="#0303fa"/>
<rect x="354.0" y="2500.2" width="102.6" height="27.9" fill="#fc0505" stroke="#3a0808"/>
<rect x="354.0" y="2541.7" width="29.7" height="29.5" fill="#0303fa"/>
<rect x="354.0" y="2571.2" width="24.6" height="27.6" fill="#fc0505" stroke="#3a0808"/>
<rect x="354.0" y="2611.6" width="36.3" height="29.4" fill="#0303fa"/>
<rect x="354.0" y="2641.0" width="22.0" height="28.2" fill="#fc0505" stroke="#3a0808"/>
</g>
<text x="97.8" y="2015.0" font-size="40.5" textLength="241.0" lengthAdjust="spacingAndGlyphs" fill="#111" font-style="italic">Lysinibacillus</text>
<text x="133.6" y="2088.0" font-size="40.5" textLength="205.2" lengthAdjust="spacingAndGlyphs" fill="#111" font-style="italic">Solibacillus</text>
<text x="85.7" y="2155.3" font-size="40.5" textLength="250.9" lengthAdjust="spacingAndGlyphs" fill="#111" font-style="italic">Acinetobacter</text>
<text x="254.8" y="2229.0" font-size="40.5" textLength="84.4" lengthAdjust="spacingAndGlyphs" fill="#111" font-style="italic">SBR</text>
<text x="49.7" y="2295.6" font-size="40.5" textLength="289.6" lengthAdjust="spacingAndGlyphs" fill="#111" font-style="italic">Hydrogenispora</text>
<text x="197.4" y="2371.0" font-size="40.5" textLength="141.4" lengthAdjust="spacingAndGlyphs" fill="#111" font-style="italic">Bacillus</text>
<text x="76.4" y="2436.0" font-size="40.5" textLength="262.3" lengthAdjust="spacingAndGlyphs" fill="#111" font-style="italic">Pseudomonas</text>
<text x="97.6" y="2509.0" font-size="40.5" textLength="241.7" lengthAdjust="spacingAndGlyphs" fill="#111" font-style="italic">Sporosarcina</text>
<text x="59.4" y="2579.5" font-size="40.5" textLength="280.5" lengthAdjust="spacingAndGlyphs" fill="#111" font-style="italic">Flavobacterium</text>
<text x="31.0" y="2651.0" font-size="40.5" textLength="307.8" lengthAdjust="spacingAndGlyphs" fill="#111" font-style="italic">Rummeliibacillus</text>
<path d="M353.0 1971.6 H880" stroke="#666" stroke-width="3.8" fill="none"/>
<path d="M353.3 1970 V2708.5" stroke="#1e1e1e" stroke-width="3.8" fill="none"/>
<path d="M351.3 2707 H861" stroke="#222" stroke-width="3.4" fill="none"/>
<path d="M471 2707 V2697.5" stroke="#333" stroke-width="2.6" fill="none"/>
<path d="M587.8 2707 V2697.5" stroke="#333" stroke-width="2.6" fill="none"/>
<path d="M704.6 2707 V2697.5" stroke="#333" stroke-width="2.6" fill="none"/>
<path d="M821.4 2707 V2697.5" stroke="#333" stroke-width="2.6" fill="none"/>
<text x="368.6" y="2751.0" font-size="37" text-anchor="middle" textLength="21.4" lengthAdjust="spacingAndGlyphs" fill="#111">0</text>
<text x="469.4" y="2751.0" font-size="37" text-anchor="middle" textLength="42.8" lengthAdjust="spacingAndGlyphs" fill="#111">10</text>
<text x="589.0" y="2751.0" font-size="37" text-anchor="middle" textLength="42.8" lengthAdjust="spacingAndGlyphs" fill="#111">20</text>
<text x="700.0" y="2751.0" font-size="37" text-anchor="middle" textLength="42.8" lengthAdjust="spacingAndGlyphs" fill="#111">30</text>
<text x="821.4" y="2751.0" font-size="37" text-anchor="middle" textLength="42.8" lengthAdjust="spacingAndGlyphs" fill="#111">40</text>
<text x="437.3" y="2808.0" font-size="44" textLength="300.1" lengthAdjust="spacingAndGlyphs" fill="#111">Proportions(%)</text>
<rect x="146.6" y="2771.2" width="81" height="27.4" fill="#fc0505" stroke="#2a0606" stroke-opacity="0.9" stroke-width="3"/>
<rect x="146.6" y="2832.2" width="81" height="27.4" fill="#0303fa" stroke="#100a26" stroke-opacity="0.9" stroke-width="3"/>
<text x="246.0" y="2804.0" font-size="46" textLength="69.9" lengthAdjust="spacingAndGlyphs" fill="#111">CK</text>
<text x="244.4" y="2861.7" font-size="46" textLength="131.9" lengthAdjust="spacingAndGlyphs" fill="#111">LFPO</text>
<text x="901.6" y="1933.8" font-size="44" textLength="494.5" lengthAdjust="spacingAndGlyphs" fill="#111">95% confidence intervals</text>
<text x="1435.1" y="1933.8" font-size="44" textLength="162.0" lengthAdjust="spacingAndGlyphs" fill="#111" font-style="italic">p_Value</text>
<path d="M1157.5 2003 V2709" stroke="#b6b6b6" stroke-width="4.4" stroke-dasharray="18 18.2" fill="none"/>
<circle cx="1306.7" cy="1997.4" r="12.6" fill="#0a0ac8" stroke="#201414" stroke-opacity="0.85" stroke-width="2.2"/>
<path d="M1228.3 1997.4 H1380.2 M1228.3 1983.9 V2010.9 M1380.2 1983.9 V2010.9" stroke="#333" stroke-width="2.4" fill="none"/>
<circle cx="1224.2" cy="2069.5" r="12.6" fill="#0a0ac8" stroke="#201414" stroke-opacity="0.85" stroke-width="2.2"/>
<path d="M1168.4 2069.5 H1270.4 M1168.4 2056.0 V2083.0 M1270.4 2056.0 V2083.0" stroke="#333" stroke-width="2.4" fill="none"/>
<circle cx="1131.2" cy="2141.6" r="12.6" fill="#c8381c" stroke="#201414" stroke-opacity="0.85" stroke-width="2.2"/>
<path d="M1043.7 2141.6 H1208.3 M1043.7 2128.1 V2155.1 M1208.3 2128.1 V2155.1" stroke="#333" stroke-width="2.4" fill="none"/>
<circle cx="1035.5" cy="2213.7" r="12.6" fill="#f01414" stroke="#201414" stroke-opacity="0.85" stroke-width="2.2"/>
<path d="M998.3 2213.7 H1066.3 M998.3 2200.2 V2227.2 M1066.3 2200.2 V2227.2" stroke="#333" stroke-width="2.4" fill="none"/>
<circle cx="1103.5" cy="2286.3" r="12.6" fill="#f01414" stroke="#201414" stroke-opacity="0.85" stroke-width="2.2"/>
<path d="M1075.4 2286.3 H1127.6 M1075.4 2272.8 V2299.8 M1127.6 2272.8 V2299.8" stroke="#333" stroke-width="2.4" fill="none"/>
<circle cx="1196.5" cy="2359.2" r="12.6" fill="#0a0ac8" stroke="#201414" stroke-opacity="0.85" stroke-width="2.2"/>
<path d="M1184.3 2359.2 H1212.0 M1184.3 2345.7 V2372.7 M1212.0 2345.7 V2372.7" stroke="#333" stroke-width="2.4" fill="none"/>
<circle cx="1141.2" cy="2439.7" r="12.6" fill="#e81818" stroke="#201414" stroke-opacity="0.85" stroke-width="2.2"/>
<path d="M1086.8 2439.7 H1192.0 M1086.8 2426.2 V2453.2 M1192.0 2426.2 V2453.2" stroke="#333" stroke-width="2.4" fill="none"/>
<circle cx="1121.7" cy="2505.0" r="12.6" fill="#f01414" stroke="#201414" stroke-opacity="0.85" stroke-width="2.2"/>
<path d="M1096.7 2505.0 H1145.7 M1096.7 2491.5 V2518.5 M1145.7 2491.5 V2518.5" stroke="#333" stroke-width="2.4" fill="none"/>
<circle cx="1171.6" cy="2574.0" r="12.6" fill="#0a0ac8" stroke="#201414" stroke-opacity="0.85" stroke-width="2.2"/>
<path d="M1155.7 2574.0 H1187.4 M1155.7 2560.5 V2587.5 M1187.4 2560.5 V2587.5" stroke="#333" stroke-width="2.4" fill="none"/>
<circle cx="1168.4" cy="2647.4" r="12.6" fill="#0a0ac8" stroke="#201414" stroke-opacity="0.85" stroke-width="2.2"/>
<path d="M1157.0 2647.4 H1183.0 M1157.0 2633.9 V2660.9 M1183.0 2633.9 V2660.9" stroke="#333" stroke-width="2.4" fill="none"/>
<text x="1478.4" y="2006.5" font-size="22.5" text-anchor="middle" fill="#f4686e" stroke="#f4686e" stroke-width="2.2" stroke-linejoin="round" font-family="'DejaVu Sans', sans-serif">✶</text>
<text x="1477.5" y="2082.1" font-size="22.5" text-anchor="middle" fill="#f4686e" stroke="#f4686e" stroke-width="2.2" stroke-linejoin="round" font-family="'DejaVu Sans', sans-serif">✶</text>
<text x="1504.5" y="2082.1" font-size="22.5" text-anchor="middle" fill="#f4686e" stroke="#f4686e" stroke-width="2.2" stroke-linejoin="round" font-family="'DejaVu Sans', sans-serif">✶</text>
<text x="1476.5" y="2224.0" font-size="22.5" text-anchor="middle" fill="#f4686e" stroke="#f4686e" stroke-width="2.2" stroke-linejoin="round" font-family="'DejaVu Sans', sans-serif">✶</text>
<text x="1503.5" y="2224.0" font-size="22.5" text-anchor="middle" fill="#f4686e" stroke="#f4686e" stroke-width="2.2" stroke-linejoin="round" font-family="'DejaVu Sans', sans-serif">✶</text>
<text x="1478.5" y="2294.7" font-size="22.5" text-anchor="middle" fill="#f4686e" stroke="#f4686e" stroke-width="2.2" stroke-linejoin="round" font-family="'DejaVu Sans', sans-serif">✶</text>
<text x="1475.4" y="2357.5" font-size="22.5" text-anchor="middle" fill="#f4686e" stroke="#f4686e" stroke-width="2.2" stroke-linejoin="round" font-family="'DejaVu Sans', sans-serif">✶</text>
<text x="1502.4" y="2357.5" font-size="22.5" text-anchor="middle" fill="#f4686e" stroke="#f4686e" stroke-width="2.2" stroke-linejoin="round" font-family="'DejaVu Sans', sans-serif">✶</text>
<text x="1478.0" y="2511.7" font-size="22.5" text-anchor="middle" fill="#f4686e" stroke="#f4686e" stroke-width="2.2" stroke-linejoin="round" font-family="'DejaVu Sans', sans-serif">✶</text>
<text x="1478.0" y="2584.0" font-size="22.5" text-anchor="middle" fill="#f4686e" stroke="#f4686e" stroke-width="2.2" stroke-linejoin="round" font-family="'DejaVu Sans', sans-serif">✶</text>
<path d="M909.9 2700 V2710 H1448.2 V2700" stroke="#8c8c8c" stroke-width="3" fill="none"/>
<path d="M960.7 2710 V2700" stroke="#777" stroke-width="2.6" fill="none"/>
<path d="M1059.5 2710 V2700" stroke="#777" stroke-width="2.6" fill="none"/>
<path d="M1157 2710 V2700" stroke="#777" stroke-width="2.6" fill="none"/>
<path d="M1257.7 2710 V2700" stroke="#777" stroke-width="2.6" fill="none"/>
<path d="M1357.5 2710 V2700" stroke="#777" stroke-width="2.6" fill="none"/>
<text x="933.2" y="2752.0" font-size="36.5" textLength="52.9" lengthAdjust="spacingAndGlyphs" fill="#111">-40</text>
<text x="1031.6" y="2752.0" font-size="36.5" textLength="52.9" lengthAdjust="spacingAndGlyphs" fill="#111">-20</text>
<text x="1155.7" y="2752.0" font-size="36.5" text-anchor="middle" textLength="21.1" lengthAdjust="spacingAndGlyphs" fill="#111">0</text>
<text x="1251.0" y="2752.0" font-size="36.5" text-anchor="middle" textLength="42.2" lengthAdjust="spacingAndGlyphs" fill="#111">20</text>
<text x="1347.5" y="2752.0" font-size="36.5" text-anchor="middle" textLength="42.2" lengthAdjust="spacingAndGlyphs" fill="#111">40</text>
<text x="1432.3" y="2752.0" font-size="36.5" text-anchor="middle" textLength="42.2" lengthAdjust="spacingAndGlyphs" fill="#111">60</text>
<text x="860.0" y="2807.5" font-size="42" textLength="661.6" lengthAdjust="spacingAndGlyphs" fill="#111">Difference between proportions(%)</text>
</g>
</g>
</svg>
</body>
</html>
